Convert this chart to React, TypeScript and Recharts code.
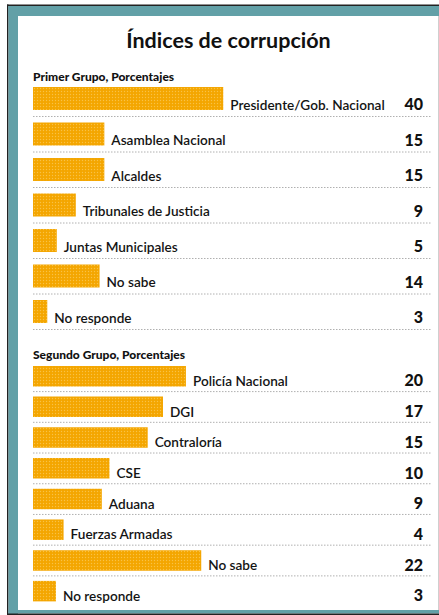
import React from "react";
import { BarChart, Bar, XAxis, YAxis, LabelList } from "recharts";

const group1Title = "Primer Grupo, Porcentajes";
const group1Names = [
  "Presidente/Gob. Nacional",
  "Asamblea Nacional",
  "Alcaldes",
  "Tribunales de Justicia",
  "Juntas Municipales",
  "No sabe",
  "No responde",
];
const group1Values = [40, 15, 15, 9, 5, 14, 3];

const group2Title = "Segundo Grupo, Porcentajes";
const group2Names = [
  "Policía Nacional",
  "DGI",
  "Contraloría",
  "CSE",
  "Aduana",
  "Fuerzas Armadas",
  "No sabe",
  "No responde",
];
const group2Values = [20, 17, 15, 10, 9, 4, 22, 3];

const chartTitle = "Índices de corrupción";

const g1Data = group1Names.map((name, i) => ({ name, value: group1Values[i] }));
const g2Data = group2Names.map((name, i) => ({ name, value: group2Values[i] }));

const FONT = "Lato, 'Open Sans', sans-serif";

const makeNameLabel = (sepOffset: number, skipIndex: number) => (props: any) => {
  const x = Number(props.x);
  const y = Number(props.y);
  const w = Number(props.width);
  const h = Number(props.height);
  return (
    <g>
      <text
        x={x + w + 7}
        y={y + h - 0.5}
        fontFamily={FONT}
        fontSize={13.6}
        fontWeight={600}
        fill="#141414"
      >
        {props.value}
      </text>
      {props.index !== skipIndex && (
        <line
          x1={x}
          x2={431}
          y1={y + h + sepOffset}
          y2={y + h + sepOffset}
          stroke="#b0b0b0"
          strokeWidth={1}
          strokeDasharray="1.5 1.5"
        />
      )}
    </g>
  );
};

const ValueLabel = (props: any) => {
  const y = Number(props.y);
  const h = Number(props.height);
  return (
    <text
      x={423}
      y={y + h}
      textAnchor="end"
      fontFamily={FONT}
      fontSize={16}
      fontWeight={900}
      fill="#111"
    >
      {props.value}
    </text>
  );
};

const Pattern = ({ id }: { id: string }) => (
  <defs>
    <pattern id={id} width="3" height="3" patternUnits="userSpaceOnUse">
      <rect width="3" height="3" fill="#F4A600" />
      <circle cx="1.5" cy="1.5" r="0.7" fill="#F9C245" />
    </pattern>
  </defs>
);

export default function App() {
  return (
    <div
      style={{
        position: "absolute",
        left: 0,
        top: 0,
        width: 439,
        height: 615,
        background: "#ffffff",
        overflow: "hidden",
      }}
    >
      <svg
        width={439}
        height={615}
        style={{ position: "absolute", left: 0, top: 0 }}
      >
        {/* frame */}
        <rect x={7} y={4.5} width={432} height={1.5} fill="#222" />
        <rect x={7} y={4.5} width={1.5} height={611} fill="#222" />
        <rect x={8.5} y={6} width={431} height={10} fill="#62A0A7" />
        <rect x={8.5} y={6} width={9.5} height={609} fill="#62A0A7" />
        <rect x={8.5} y={610} width={431} height={3.5} fill="#62A0A7" />
        <rect x={7} y={613.5} width={432} height={1.5} fill="#222" />
        <rect x={438} y={16} width={1} height={594} fill="#cfcfcf" />
        {/* titles */}
        <text
          x={228.5}
          y={47.5}
          textAnchor="middle"
          fontFamily={FONT}
          fontSize={21.5}
          fontWeight={700}
          fill="#111"
        >
          {chartTitle}
        </text>
        <text
          x={33}
          y={81}
          fontFamily={FONT}
          fontSize={12}
          fontWeight={900}
          fill="#111"
        >
          {group1Title}
        </text>
        <text
          x={33}
          y={359}
          fontFamily={FONT}
          fontSize={12}
          fontWeight={900}
          fill="#111"
        >
          {group2Title}
        </text>
      </svg>

      <div style={{ position: "absolute", left: 0, top: 0 }}>
        <BarChart
          width={439}
          height={340}
          data={g1Data}
          layout="vertical"
          margin={{ top: 81, left: 33, right: 16, bottom: 10.5 }}
        >
          <Pattern id="dots1" />
          <XAxis type="number" hide domain={[0, 82]} />
          <YAxis type="category" dataKey="name" hide />
          <Bar
            dataKey="value"
            fill="url(#dots1)"
            barSize={23}
            isAnimationActive={false}
          >
            <LabelList dataKey="name" content={makeNameLabel(6.5, -1)} />
            <LabelList dataKey="value" content={ValueLabel} />
          </Bar>
        </BarChart>
      </div>

      <div style={{ position: "absolute", left: 0, top: 340 }}>
        <BarChart
          width={439}
          height={275}
          data={g2Data}
          layout="vertical"
          margin={{ top: 20.9, left: 33, right: 16, bottom: 8.4 }}
        >
          <Pattern id="dots2" />
          <XAxis type="number" hide domain={[0, 51]} />
          <YAxis type="category" dataKey="name" hide />
          <Bar
            dataKey="value"
            fill="url(#dots2)"
            barSize={20.5}
            isAnimationActive={false}
          >
            <LabelList
              dataKey="name"
              content={makeNameLabel(5.2, group2Names.length - 1)}
            />
            <LabelList dataKey="value" content={ValueLabel} />
          </Bar>
        </BarChart>
      </div>
    </div>
  );
}
